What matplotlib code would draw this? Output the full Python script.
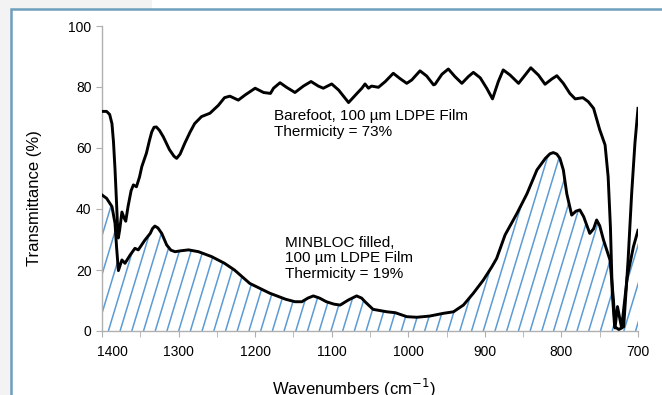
import numpy as np
import matplotlib
matplotlib.use("Agg")
import matplotlib.pyplot as plt
import matplotlib.patches as mpatches
import matplotlib.transforms as mtransforms
from matplotlib.collections import LineCollection

plt.rcParams['font.family'] = ['Liberation Sans', 'DejaVu Sans']

# Barefoot, 100 um LDPE film (upper curve)
wn_bare = [1400, 1394, 1390, 1387, 1385, 1383, 1381, 1379.5, 1378.7, 1377, 1374, 1371,
           1369, 1366, 1362, 1359, 1355, 1351, 1348, 1342, 1338, 1335, 1332, 1329, 1325,
           1320, 1312, 1306, 1302.5, 1298, 1292, 1285, 1279, 1270, 1259, 1248, 1240,
           1233, 1222, 1213, 1200, 1189, 1180, 1176, 1167.5, 1159, 1148, 1137, 1127,
           1117.5, 1111, 1100, 1091, 1078, 1067, 1060.6, 1056.5, 1052, 1048, 1039,
           1030, 1019.6, 1011, 1002, 995.5, 984.7, 976, 967, 965, 956, 947.7, 939, 930,
           921.6, 915, 906, 897.6, 890, 882.4, 876, 867, 856, 847.5, 840, 830, 821.4,
           812.7, 806, 797.5, 789, 782, 772, 765, 758, 750, 743, 739, 736, 733.6, 730.5,
           725, 718.7, 713, 708.3, 704, 700]
tr_bare = [72, 72, 71, 68, 62, 53, 42, 33, 30.5, 33, 39, 37,
           36, 40.8, 46, 47.9, 47.3, 50.5, 53.9, 58.3, 62.5, 65.3, 66.8, 66.9, 65.8,
           63.7, 59.5, 57.3, 56.6, 58, 61.5, 65.2, 68, 70.3, 71.4, 74, 76.5,
           77, 75.7, 77.4, 79.6, 78.2, 77.9, 79.6, 81.4, 79.9, 78.2, 80.3, 81.8,
           80.3, 79.6, 81, 79, 74.9, 77.9, 79.6, 81, 79.6, 80.3, 79.9,
           81.8, 84.5, 82.8, 81.2, 82.3, 85.3, 83.6, 80.7, 80.9, 84.2, 85.9, 83.4, 81.2,
           83.4, 84.8, 83, 79.6, 76.1, 81.8, 85.6, 83.9, 81.2, 83.9, 86.3, 83.9, 80.9,
           82.6, 83.7, 81.2, 77.9, 76.1, 76.5, 75.2, 73, 66, 61, 50.6, 34, 12.4, 1.4,
           0.5, 1.4, 23, 45, 61.6, 73]

# MINBLOC filled, 100 um LDPE film (lower curve)
wn_minb = [1400, 1394, 1387, 1383, 1381, 1378.6, 1374, 1370, 1363, 1357, 1352.6, 1344,
           1337, 1334, 1331, 1327, 1322, 1315.5, 1310, 1304.6, 1297, 1287, 1274, 1257,
           1240, 1227, 1207, 1181, 1160, 1148, 1139, 1131, 1124, 1116, 1107, 1097, 1089,
           1078, 1067.5, 1061, 1056.5, 1046, 1028, 1017, 1002, 989, 972, 954, 941, 928,
           915, 902, 891, 884.6, 873.6, 858, 845, 832, 821, 815, 810.6, 806, 802, 797.5,
           793, 786.6, 781, 776, 771, 763, 758, 754, 750, 745, 736.6, 732, 730, 726.8,
           721.4, 714, 706, 700]
tr_minb = [44.6, 43.5, 40.8, 35.3, 27.6, 19.8, 23.3, 22.2, 25, 27.1, 26.6, 29.8,
           32, 33.6, 34.4, 33.8, 32, 28.2, 26.5, 26, 26.3, 26.6, 26, 24.4,
           22.2, 20, 15.6, 12.4, 10.4, 9.6, 9.6, 10.8, 11.5, 10.8, 9.6, 8.8, 8.5,
           10.2, 11.5, 10.8, 9.6, 7.1, 6.3, 6, 4.7, 4.5, 4.9, 5.8, 6.3, 8.5,
           12.4, 16.7, 21, 23.8, 31.5, 38.6, 45, 52.8, 56.6, 58.1, 58.5, 58, 56.6, 52.8,
           45, 38, 39.3, 39.7, 37.5, 32, 33.5, 36.4, 34.5, 29.8, 23.3, 10, 1, 8,
           1, 17.8, 27.6, 33]

x_ticks = [1400, 1300, 1200, 1100, 1000, 900, 800, 700]
y_ticks = [0, 20, 40, 60, 80, 100]

W, H = 662, 395
fig = plt.figure(figsize=(W / 100, H / 100), dpi=100)

# page background and blue frame
fig.patches.append(mpatches.Rectangle((0, 0), 11 / W, 1, transform=fig.transFigure,
                                      facecolor='#f3f3f3', edgecolor='none', zorder=0))
fig.patches.append(mpatches.Rectangle((0, 1 - 9 / H), 152 / W, 9 / H, transform=fig.transFigure,
                                      facecolor='#f3f3f3', edgecolor='none', zorder=0))
fig.patches.append(mpatches.Rectangle((11 / W, -0.1), 1.2, 1 - 9 / H + 0.1, transform=fig.transFigure,
                                      facecolor='none', edgecolor='#6e9fbc', lw=1.8, zorder=1))

ax = fig.add_axes([102 / W, 1 - 331 / H, 536 / W, 305 / H])
ax.patch.set_alpha(0)

# hatched area under the MINBLOC curve
fill = ax.fill_between(wn_minb, tr_minb, 0, facecolor='none', edgecolor='none', lw=0)
slope = 0.83
segs = []
for w0 in np.arange(1560, 690, -15.3):
    segs.append([(w0, 0), (w0 - 130, 130 * slope)])
hatch = LineCollection(segs, colors='#5b9bd5', linewidths=1.1, zorder=2)
ax.add_collection(hatch)
hatch.set_clip_path(fill.get_paths()[0], fill.get_transform())

ax.plot(wn_minb, tr_minb, color='black', lw=2.1, zorder=3, solid_joinstyle='round')
ax.plot(wn_bare, tr_bare, color='black', lw=2.1, zorder=3, solid_joinstyle='round')

ax.set_xlim(1400, 700)
ax.set_ylim(0, 100)
ax.set_xticks(x_ticks)
ax.set_xticks(np.arange(1350, 700, -100), minor=True)
ax.set_yticks(y_ticks)
for s in ['top', 'right']:
    ax.spines[s].set_visible(False)
for s in ['left', 'bottom']:
    ax.spines[s].set_color('#b0b0b0')
    ax.spines[s].set_linewidth(1.0)
ax.tick_params(which='both', direction='out', length=4, color='#b0b0b0', labelsize=10)
ax.tick_params(axis='x', pad=6)
# first x label sits right of its tick
lab = ax.get_xticklabels()[0]
lab.set_transform(lab.get_transform() + mtransforms.ScaledTranslation(10 / 100, 0, fig.dpi_scale_trans))

ax.text(1175, 72.8, 'Barefoot, 100 µm LDPE Film\nThermicity = 73%', fontsize=11,
        va='top', ha='left', linespacing=1.15)
ax.text(1161, 31.3, 'MINBLOC filled,\n100 µm LDPE Film\nThermicity = 19%', fontsize=11,
        va='top', ha='left', linespacing=1.15)

fig.text(35 / W, 1 - 198 / H, 'Transmittance (%)', rotation=90, fontsize=12,
         ha='center', va='center')
fig.text(354 / W, 1 - 388 / H, 'Wavenumbers (cm$^{-1}$)', fontsize=12,
         ha='center', va='center')

fig.savefig('out.png', dpi=100)
